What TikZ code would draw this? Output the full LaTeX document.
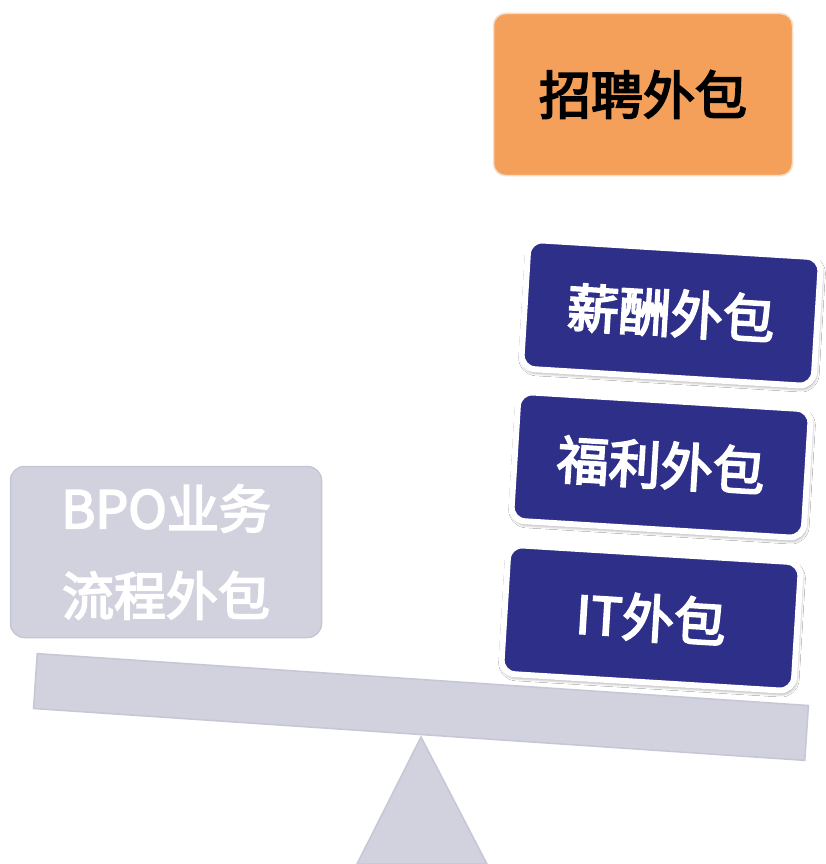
\documentclass[tikz,border=0pt]{standalone}
\usepackage{fontspec}
\setmainfont{Noto Sans CJK SC}
\newfontfamily\medcjk{Noto Sans CJK SC}[FakeBold=3.5]
\usetikzlibrary{shadows.blur}
\definecolor{navy}{HTML}{2E2F88}
\definecolor{orangebox}{HTML}{F5A05A}
\definecolor{orangeedge}{HTML}{F9DCC4}
\definecolor{grayfill}{HTML}{D1D2DE}
\definecolor{grayedge}{HTML}{C6C7D6}
\tikzset{
  bigtext/.style={font=\medcjk\fontsize{52}{87}\selectfont},
  navybox/.style={rectangle, rounded corners=14pt, fill=navy, draw=white, line width=6pt,
    minimum width=293pt, minimum height=129pt, text=white, bigtext, rotate=-3.5,
    blur shadow={shadow xshift=1pt, shadow yshift=-2.5pt, shadow blur radius=4pt,
      shadow blur steps=8, shadow opacity=55}},
  orangebox/.style={rectangle, rounded corners=12pt, fill=orangebox, draw=orangeedge, line width=1.5pt,
    minimum width=299pt, minimum height=162pt, text=black, bigtext},
  graybox/.style={rectangle, rounded corners=14pt, fill=grayfill, draw=grayedge, line width=1.5pt,
    minimum width=311pt, minimum height=171pt, text=white, bigtext, align=center},
  beamstyle/.style={rectangle, fill=grayfill, draw=grayedge, line width=1.5pt,
    minimum width=773pt, minimum height=55pt, rotate=-3.85, inner sep=0pt},
}
\begin{document}
\begin{tikzpicture}[x=1pt,y=-1pt]
\useasboundingbox (0,0) rectangle (826,864);
\fill[white] (0,0) rectangle (826,864);
% fulcrum
\coordinate (apex) at (421,737);
\coordinate (bl) at (357,864);
\coordinate (br) at (487,864);
\filldraw[fill=grayfill, draw=grayedge, line width=1.5pt] (apex) -- (bl) -- (br) -- cycle;
% beam
\node[beamstyle] (beam) at (421,707) {};
% left box
\node[graybox] (bpo) at (166,552) {BPO业务\\流程外包};
% orange box
\node[orangebox] (zp) at (643,94.5) {招聘外包};
% navy stack
\node[navybox] (it) at (651,618) {IT外包};
\node[navybox] (fl) at (661,465) {福利外包};
\node[navybox] (xc) at (671,313) {薪酬外包};
\end{tikzpicture}
\end{document}
